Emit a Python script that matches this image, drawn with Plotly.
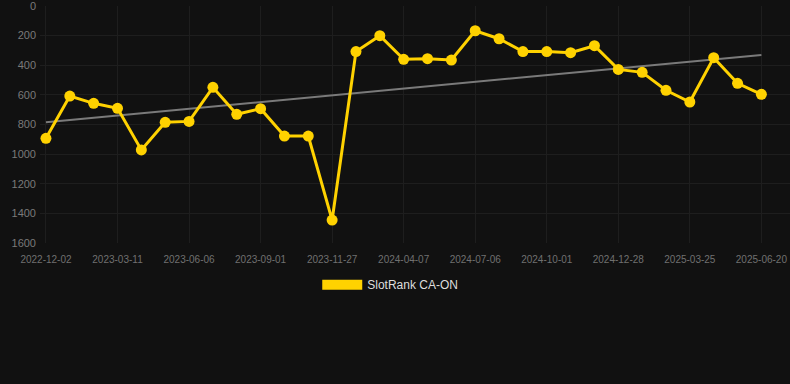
import numpy as np
import plotly.graph_objects as go

dates = ["2022-12-02", "2023-01-04", "2023-02-06", "2023-03-11", "2023-04-09", "2023-05-08",
         "2023-06-06", "2023-07-05", "2023-08-03", "2023-09-01", "2023-09-30", "2023-10-29",
         "2023-11-27", "2024-01-10", "2024-02-23", "2024-04-07", "2024-05-07", "2024-06-06",
         "2024-07-06", "2024-08-04", "2024-09-02", "2024-10-01", "2024-10-30", "2024-11-28",
         "2024-12-28", "2025-01-26", "2025-02-24", "2025-03-25", "2025-04-23", "2025-05-22",
         "2025-06-20"]
ranks = [893, 608, 657, 691, 972, 785, 779, 549, 731, 693, 878, 878, 1445, 308, 200,
         360, 356, 365, 167, 221, 308, 308, 315, 268, 428, 448, 569, 648, 349, 522, 596]
series_name = "SlotRank CA-ON"
y_ticks = [0, 200, 400, 600, 800, 1000, 1200, 1400, 1600]

idx = np.arange(len(ranks))
slope, intercept = np.polyfit(idx, ranks, 1)
trend = slope * idx + intercept

gold = "#FFD200"
fig = go.Figure()
fig.add_trace(go.Scatter(x=[dates[0], dates[-1]], y=[trend[0], trend[-1]], mode="lines",
                         line=dict(color="#7a7a7a", width=2), showlegend=False, hoverinfo="skip"))
fig.add_trace(go.Scatter(x=dates, y=ranks, mode="lines+markers", name=series_name,
                         line=dict(color=gold, width=3), marker=dict(color=gold, size=11),
                         showlegend=False))
fig.add_trace(go.Scatter(x=[None], y=[None], mode="lines", name=series_name,
                         line=dict(color=gold, width=10), showlegend=True))

fig.update_layout(
    width=790, height=384,
    paper_bgcolor="#111111", plot_bgcolor="#111111",
    margin=dict(l=40, r=0, t=6, b=141),
    font=dict(family="Liberation Sans, Arial, sans-serif", color="#888888"),
    showlegend=True,
    legend=dict(orientation="h", x=0.467, xanchor="center",
                y=-0.115, yanchor="top",
                font=dict(size=12, color="#dddddd"), itemwidth=40,
                bgcolor="rgba(0,0,0,0)"),
    xaxis=dict(type="category", categoryorder="array", categoryarray=dates,
               range=[-0.25, 31.2], tickmode="array", tickvals=dates[::3], ticktext=dates[::3],
               tickfont=dict(size=10, color="#707070"), showgrid=True, gridcolor="#1e1e1e",
               gridwidth=1, zeroline=False, showline=False, ticks="", ticklabelstandoff=9),
    yaxis=dict(range=[1600, 0], tickvals=y_ticks, tickfont=dict(size=11, color="#7a7a7a"),
               showgrid=True, gridcolor="#1e1e1e", gridwidth=1, zeroline=False,
               showline=False, ticks="", ticklabelstandoff=3, ticklabeloverflow="allow"),
)
fig.write_html("out.html", config={"displayModeBar": False},
               post_script="document.body.style.margin='0';")
